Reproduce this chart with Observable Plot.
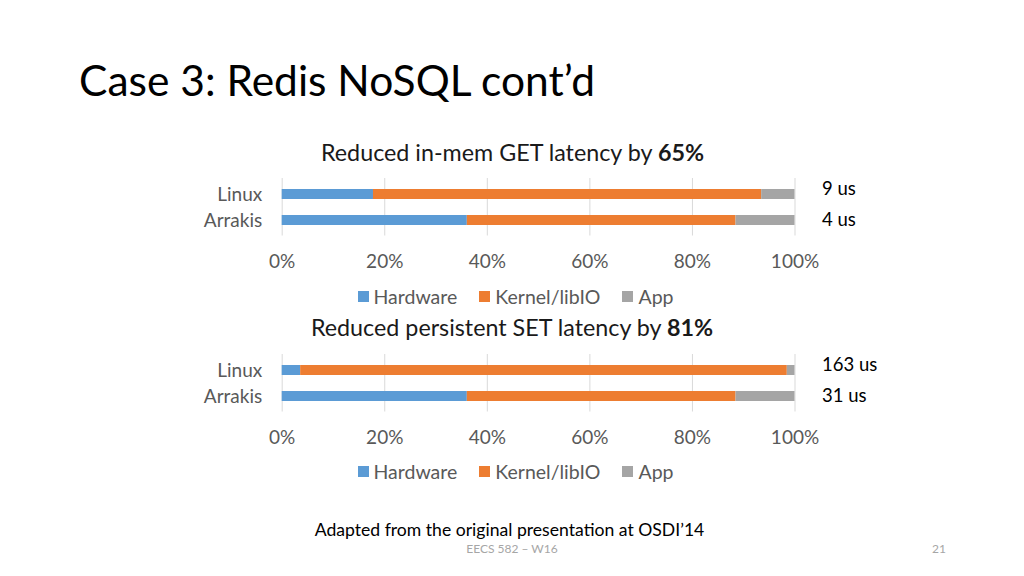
<!DOCTYPE html>
<html>
<head>
<meta charset="utf-8">
<script src="https://cdn.jsdelivr.net/npm/d3@7"></script>
<script src="https://cdn.jsdelivr.net/npm/@observablehq/plot@0.6"></script>
<style>
  body { margin: 0; background: #fff; }
  #slide { position: relative; width: 1024px; height: 576px; overflow: hidden; background: #fff; font-family: Lato, "Open Sans", sans-serif; }
  .legend { position: absolute; left: 0; width: 1024px; display: flex; justify-content: center; align-items: center; font-size: 19.5px; color: #595959; }
  .legend .item { display: flex; align-items: center; margin: 0 11px; }
  .legend .sw { width: 11px; height: 11px; margin-right: 5px; }
</style>
</head>
<body>
<div id="slide"></div>
<script>
// ---- data ----
const systems = ["Linux", "Arrakis"];
const components = ["Hardware", "Kernel/libIO", "App"];
const componentColors = ["#5B9BD5", "#ED7D31", "#A5A5A5"];
const xTicks = [0, 20, 40, 60, 80, 100];

// GET (in-memory) latency breakdown, % of total
const getHardware = [17.8, 36.1];
const getKernel = [75.7, 52.4];
const getApp = [6.5, 11.5];
const getLatency = ["9 us", "4 us"];

// SET (persistent) latency breakdown, % of total
const setHardware = [3.6, 36.1];
const setKernel = [94.9, 52.4];
const setApp = [1.5, 11.5];
const setLatency = ["163 us", "31 us"];

const slideTitle = "Case 3: Redis NoSQL cont\u2019d";
const chart1Title = ["Reduced in-mem GET latency by ", "65%"];
const chart2Title = ["Reduced persistent SET latency by ", "81%"];
const caption = "Adapted from the original presentation at OSDI\u201914";
const footer = "EECS 582 \u2013 W16";
const pageNumber = "21";

// ---- layout ----
const slide = document.getElementById("slide");
const svgNS = "http://www.w3.org/2000/svg";
const overlay = document.createElementNS(svgNS, "svg");
overlay.setAttribute("width", 1024);
overlay.setAttribute("height", 576);
overlay.style.position = "absolute";
overlay.style.left = "0"; overlay.style.top = "0";
overlay.style.fontFamily = "Lato, 'Open Sans', sans-serif";
slide.appendChild(overlay);

function addText(parts, x, y, size, fill, anchor) {
  const t = document.createElementNS(svgNS, "text");
  t.setAttribute("x", x); t.setAttribute("y", y);
  t.setAttribute("font-size", size); t.setAttribute("fill", fill);
  t.setAttribute("text-anchor", anchor || "start");
  (Array.isArray(parts) ? parts : [parts]).forEach((p, i) => {
    const s = document.createElementNS(svgNS, "tspan");
    s.textContent = p;
    if (i === 1) s.setAttribute("font-weight", "bold");
    t.appendChild(s);
  });
  overlay.appendChild(t);
}

addText(slideTitle, 79, 96, 42.5, "#000");
addText(chart1Title, 512.5, 161, 23.3, "#1a1a1a", "middle");
addText(chart2Title, 512, 336, 23.3, "#1a1a1a", "middle");
addText(caption, 509.5, 536, 17.6, "#000", "middle");
addText(footer, 512, 553, 12, "#a6a6a6", "middle");
addText(pageNumber, 946, 553, 12, "#a6a6a6", "end");

function makeData(hw, kn, app) {
  const vals = [hw, kn, app];
  return systems.flatMap((s, i) => components.map((c, j) => ({ system: s, component: c, value: vals[j][i] })));
}

function drawChart(top, hw, kn, app, lat) {
  const H = 110;
  const rangeTop = 8;
  const rangeH = 57.5;
  const fs = 19;
  const plot = Plot.plot({
    width: 1024,
    height: H,
    marginLeft: 281.7,
    marginRight: 229.5,
    marginTop: rangeTop,
    marginBottom: H - rangeTop - rangeH,
    x: { domain: [0, 100], label: null },
    y: { domain: systems, paddingInner: 0.6, paddingOuter: 0.39, label: null },
    color: { domain: components, range: componentColors },
    style: { fontFamily: "Lato, 'Open Sans', sans-serif", fontSize: fs + "px", background: "transparent", overflow: "visible" },
    marks: [
      Plot.gridX(xTicks, { stroke: "#d9d9d9", strokeOpacity: 1 }),
      Plot.barX(makeData(hw, kn, app), Plot.stackX({ x: "value", y: "system", fill: "component", order: components })),
      Plot.axisX(xTicks, { tickSize: 0, tickPadding: 18, tickFormat: d => d + "%", fill: "#595959", fontSize: fs, label: null }),
      Plot.axisY({ tickSize: 0, tickPadding: 20, fill: "#595959", fontSize: fs, label: null }),
      Plot.text(systems.slice(0, 1), { x: () => 100, y: d => d, text: () => lat[0], dx: 27, dy: -5, textAnchor: "start", fill: "#000", fontSize: 18.5 }),
      Plot.text(systems.slice(1), { x: () => 100, y: d => d, text: () => lat[1], dx: 27, dy: 0, textAnchor: "start", fill: "#000", fontSize: 18.5 })
    ]
  });
  plot.style.position = "absolute";
  plot.style.left = "0";
  plot.style.top = (top - rangeTop) + "px";
  slide.appendChild(plot);
  return plot;
}

const p1 = drawChart(178, getHardware, getKernel, getApp, getLatency);
const p2 = drawChart(354, setHardware, setKernel, setApp, setLatency);

function drawLegend(centerY, plot) {
  const color = plot.scale("color");
  const lg = document.createElement("div");
  lg.className = "legend";
  lg.style.top = (centerY - 12) + "px";
  lg.style.height = "24px";
  lg.style.paddingLeft = "7px";
  lg.style.boxSizing = "border-box";
  color.domain.forEach((c, i) => {
    const it = document.createElement("div");
    it.className = "item";
    const sw = document.createElement("div");
    sw.className = "sw";
    sw.style.background = color.range[i];
    const lb = document.createElement("span");
    lb.textContent = c;
    it.appendChild(sw); it.appendChild(lb);
    lg.appendChild(it);
  });
  slide.appendChild(lg);
}
drawLegend(296, p1);
drawLegend(471, p2);
</script>
</body>
</html>
